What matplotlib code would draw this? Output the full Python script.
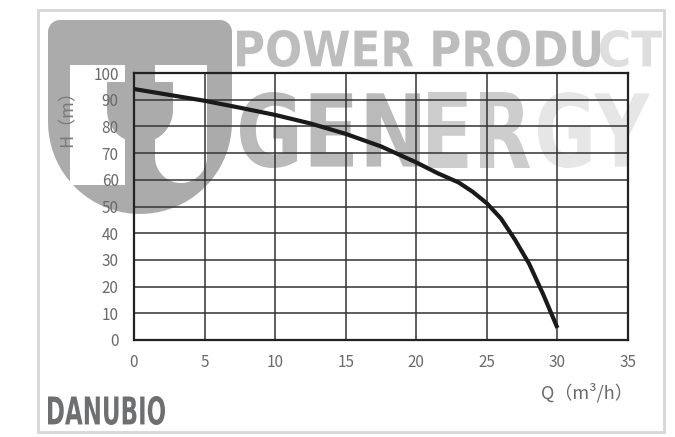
import numpy as np
import matplotlib
matplotlib.use("Agg")
import matplotlib.pyplot as plt
from matplotlib.textpath import TextPath
from matplotlib.font_manager import FontProperties
from matplotlib.patches import PathPatch, Polygon, Rectangle
from matplotlib.transforms import Affine2D

plt.rcParams['font.family'] = ['Noto Sans CJK SC', 'DejaVu Sans']

# pump curve
flow = [0, 2.5, 5, 7.5, 10, 12.5, 15, 17.5, 20, 21.5, 23, 24, 25, 26, 27, 28, 29, 30]
head = [94, 91.8, 89.6, 87, 84.3, 81.1, 77.2, 72.5, 66.5, 62.5, 59, 55.5, 51.2, 45.5, 37.5, 28.5, 17, 4.5]
x_ticks = [0, 5, 10, 15, 20, 25, 30, 35]
y_ticks = [0, 10, 20, 30, 40, 50, 60, 70, 80, 90, 100]

W, H = 675, 437
fig = plt.figure(figsize=(W / 100, H / 100), dpi=100)

# background layer in pixel coordinates (y downwards) for the watermark
bg = fig.add_axes([0, 0, 1, 1], zorder=0)
bg.set_xlim(0, W)
bg.set_ylim(H, 0)
bg.axis('off')


def fit_text(s, x0, y0, x1, y1, color, weight='bold', family='DejaVu Sans', z=1):
    tp = TextPath((0, 0), s, size=100, prop=FontProperties(family=family, weight=weight))
    bb = tp.get_extents()
    tr = Affine2D().translate(-bb.x0, -bb.y0).scale((x1 - x0) / bb.width, -(y1 - y0) / bb.height).translate(x0, y1)
    bg.add_patch(PathPatch(tr.transform_path(tp), facecolor=color, lw=0, zorder=z))


def u_shape(x0, x1, ytop, ymid, color, z, rc=0):
    r = (x1 - x0) / 2
    cx = (x0 + x1) / 2
    t = np.linspace(0, np.pi, 40)
    if rc:
        a = np.linspace(np.pi, 1.5 * np.pi, 10)
        b = np.linspace(1.5 * np.pi, 2 * np.pi, 10)
        top = list(zip(x0 + rc + rc * np.cos(a), ytop + rc + rc * np.sin(a)))
        top += list(zip(x1 - rc + rc * np.cos(b), ytop + rc + rc * np.sin(b)))
    else:
        top = [(x0, ytop), (x1, ytop)]
    pts = top + list(zip(cx + r * np.cos(t), ymid + r * np.sin(t)))
    bg.add_patch(Polygon(pts, closed=True, facecolor=color, lw=0, zorder=z))


logo = '#ababab'
u_shape(48, 232, 20, 122, logo, 1, rc=12)
bg.add_patch(Rectangle((70, 65), 55, 120, facecolor='white', lw=0, zorder=2))
u_shape(155, 207, 65, 157, 'white', 2)
u_shape(107, 173, 82, 110, logo, 3)

fit_text('POWER PRODU', 237, 30, 600, 67, '#bdbdbd')
fit_text('CT', 600, 30, 662, 67, '#dedede')
fit_text('GEN', 240, 92, 420, 168, '#bababa')
fit_text('ER', 428, 92, 530, 168, '#cdcdcd')
fit_text('GY', 538, 92, 650, 168, '#e6e6e6')

fit_text('DANUBIO', 48, 396, 165, 425, '#6e6f71', z=5)
bg.add_patch(Rectangle((38, 10), 626, 422, facecolor='none', edgecolor='#d6d6d6', lw=2, zorder=5))

# main chart
ax = fig.add_axes([134 / W, 1 - 340 / H, 494 / W, 267 / H], zorder=1)
ax.patch.set_alpha(0)
ax.plot(flow, head, color='#1a1a1a', lw=3, solid_capstyle='butt', zorder=3)
ax.set_xlim(0, 35)
ax.set_ylim(0, 100)
ax.set_xticks(x_ticks)
ax.set_yticks(y_ticks)
ax.grid(True, color='#333333', lw=1.1)
ax.set_axisbelow(True)
for s in ax.spines.values():
    s.set_color('#222222')
    s.set_linewidth(1.6)
ax.tick_params(length=0, labelsize=11, labelcolor='#6a6a6a')
ax.tick_params(axis='y', pad=11)
ax.tick_params(axis='x', pad=10)

fig.text(67 / W, 1 - 114 / H, 'H（m）', rotation=90, ha='center', va='center',
         fontsize=13, color='#7a7a7a')
fig.text(633 / W, 1 - 393 / H, 'Q（m³/h）', ha='right', va='center',
         fontsize=13, color='#6a6a6a')

fig.savefig('out.png', dpi=100, facecolor='white')
